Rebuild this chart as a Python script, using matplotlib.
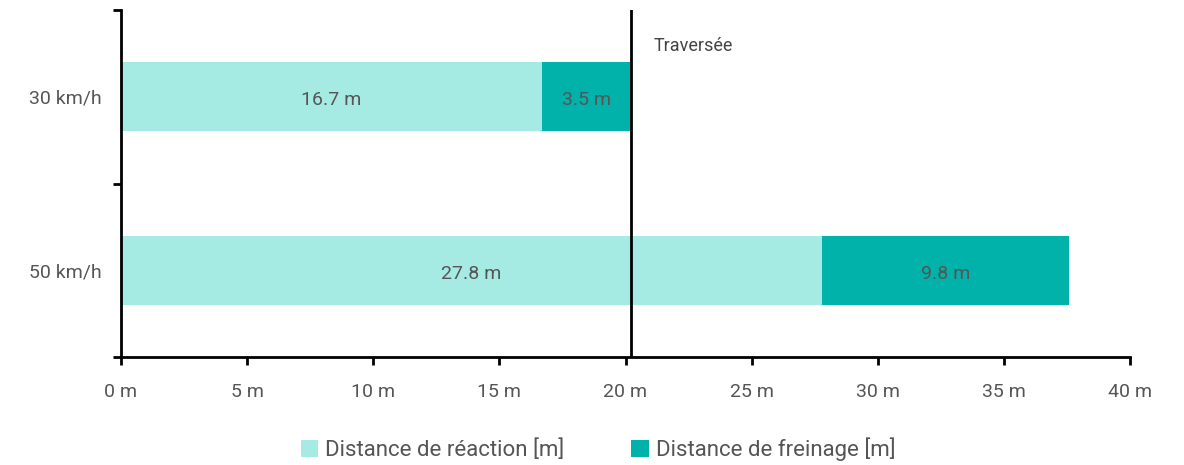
import matplotlib.pyplot as plt
from matplotlib.ticker import FuncFormatter

# data
speeds = ['50 km/h', '30 km/h']
reaction = [27.8, 16.7]
braking = [9.8, 3.5]
crossing = 20.2

light = '#A6EAE4'
dark = '#00B2A9'
txt = '#555555'

plt.rcParams['font.family'] = 'Roboto'

fig = plt.figure(figsize=(11.84, 4.65), dpi=100)
ax = fig.add_axes([121 / 1184, 1 - 357 / 465, (1130 - 121) / 1184, (357 - 10) / 465])

y = range(len(speeds))
ax.barh(y, reaction, height=0.4, color=light, label='Distance de réaction [m]')
ax.barh(y, braking, left=reaction, height=0.4, color=dark, label='Distance de freinage [m]')

for i in y:
    ax.text(reaction[i] / 2, i - 0.02, f'{reaction[i]} m', ha='center', va='center', fontsize=14, color=txt)
    ax.text(reaction[i] + braking[i] / 2, i - 0.02, f'{braking[i]} m', ha='center', va='center', fontsize=14, color=txt)

ax.axvline(crossing, color='black', lw=2)
ax.text(crossing + 0.9, 1.29, 'Traversée', ha='left', va='center', fontsize=13, color='#444444')

ax.set_xlim(0, 40)
ax.set_ylim(-0.5, 1.5)
ax.set_xticks(range(0, 41, 5))
ax.xaxis.set_major_formatter(FuncFormatter(lambda v, p: f'{int(v)} m'))
ax.set_yticks([-0.5, 0.5, 1.5])
ax.set_yticklabels([])
ax.set_yticks(list(y), minor=True)
ax.set_yticklabels(speeds, minor=True)
ax.tick_params(axis='y', which='minor', length=0, pad=14, labelsize=14, labelcolor=txt)
ax.tick_params(axis='y', which='major', length=6, width=2)
ax.tick_params(axis='x', length=6, width=2, labelsize=14, labelcolor=txt, pad=13)

for s in ['top', 'right']:
    ax.spines[s].set_visible(False)
for s in ['left', 'bottom']:
    ax.spines[s].set_linewidth(2)

fig.legend(loc='lower center', bbox_to_anchor=(0.505, -0.035), ncol=2, frameon=False,
           fontsize=16, labelcolor=txt, handlelength=0.8, handleheight=0.8,
           handletextpad=0.3, columnspacing=3)

fig.savefig('out.png')
